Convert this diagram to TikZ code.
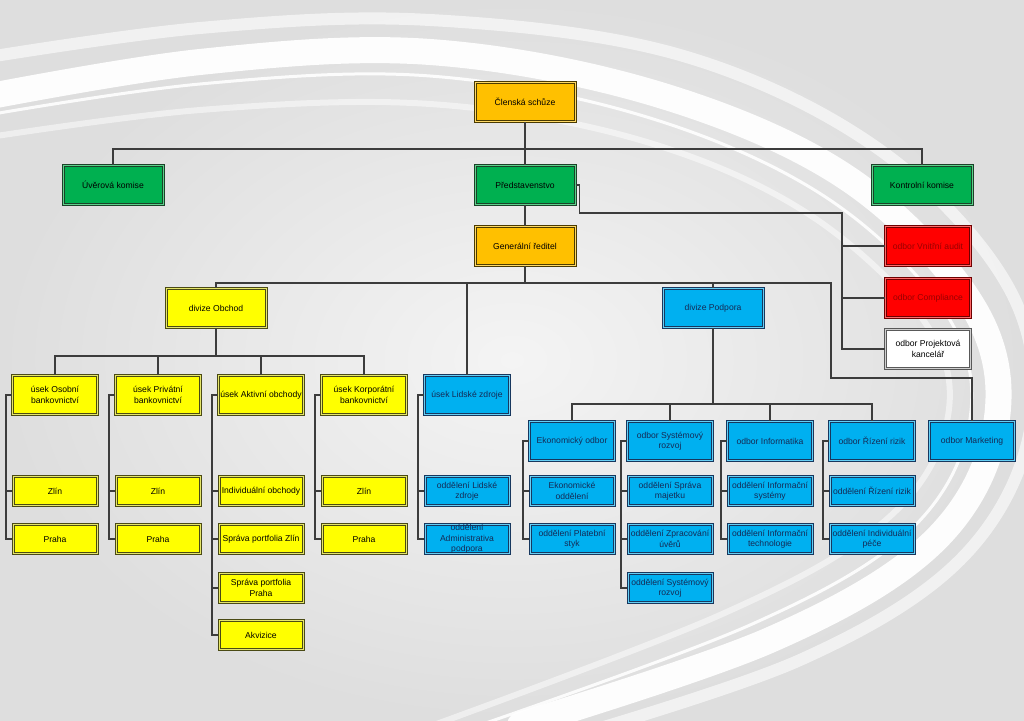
\documentclass[tikz,border=0pt]{standalone}
\usepackage{fontspec}
\setmainfont{Liberation Sans}
\hyphenpenalty=10000 \exhyphenpenalty=10000
\definecolor{linec}{HTML}{3C3C3C}
\definecolor{bgin}{HTML}{F4F4F4}\definecolor{bgout}{HTML}{DEDEDE}
\definecolor{cOr}{HTML}{FFC000}\definecolor{cOrD}{HTML}{4A3A00}\definecolor{cOrL}{HTML}{FFD966}
\definecolor{cGr}{HTML}{00B050}\definecolor{cGrD}{HTML}{1A4228}\definecolor{cGrL}{HTML}{5FD08C}
\definecolor{cRd}{HTML}{FF0000}\definecolor{cRdD}{HTML}{6E0000}\definecolor{cRdL}{HTML}{FF6A6A}
\definecolor{cYe}{HTML}{FFFF00}\definecolor{cYeD}{HTML}{4A4A14}\definecolor{cYeL}{HTML}{E6E66A}
\definecolor{cBl}{HTML}{00B0F0}\definecolor{cBlD}{HTML}{17375E}\definecolor{cBlL}{HTML}{66CFF5}
\definecolor{cWhD}{HTML}{595959}\definecolor{cWhL}{HTML}{D0D0D0}
\definecolor{tBl}{HTML}{152A55}\definecolor{tRd}{HTML}{990000}
\begin{document}
\begin{tikzpicture}[x=1pt,y=-1pt,
  conn/.style={draw=linec, line width=1.1pt},
  base/.style={rectangle, double distance=0.8pt, line width=1.1pt, inner sep=0pt, align=center,
               font=\fontsize{8.6}{10.5}\selectfont},
  bigbox/.style={base, minimum width=100pt, minimum height=39pt},
  midbox/.style={base, minimum width=85pt, minimum height=39pt},
  smallbox/.style={base, minimum width=84pt, minimum height=29pt},
  orb/.style={fill=cOr, draw=cOrD, double=cOrL, text=black},
  grb/.style={fill=cGr, draw=cGrD, double=cGrL, text=black},
  rdb/.style={fill=cRd, draw=cRdD, double=cRdL, text=tRd},
  yeb/.style={fill=cYe, draw=cYeD, double=cYeL, text=black},
  blb/.style={fill=cBl, draw=cBlD, double=cBlL, text=tBl},
  whb/.style={fill=white, draw=cWhD, double=cWhL, text=black},
  swoosh/.style={draw=white, line cap=round}
]
\useasboundingbox (0,0) rectangle (1024,720);
% background
\shade[inner color=bgin, outer color=bgout] (0,0) rectangle (1024,720);
\begin{scope}
\clip (0,0) rectangle (1024,720);
\draw[swoosh, line width=26pt, opacity=0.95] plot[smooth, tension=0.6] coordinates
  {(-30,100) (200,62) (430,52) (660,95) (850,180) (975,310) (995,430) (930,545) (770,640) (520,725)};
\draw[swoosh, line width=12pt, opacity=0.6] plot[smooth, tension=0.6] coordinates
  {(-30,60) (200,28) (430,20) (680,55) (880,150) (1010,290) (1030,430) (960,560) (800,660) (560,740)};
\draw[swoosh, line width=3pt, opacity=0.9] plot[smooth, tension=0.6] coordinates
  {(-30,118) (200,84) (430,76) (650,118) (830,200) (950,320) (968,430) (905,535) (750,625) (480,725)};
\draw[swoosh, line width=6pt, opacity=0.5] plot[smooth, tension=0.6] coordinates
  {(-30,140) (200,110) (430,104) (640,140) (810,215) (930,330) (945,430) (880,525) (720,615) (420,730)};
\end{scope}

% top level
\node[bigbox,orb] (cs) at (525,102) {Členská schůze};
\node[bigbox,grb] (uk) at (113,185) {Úvěrová komise};
\node[bigbox,grb] (ps) at (525,185) {Představenstvo};
\node[bigbox,grb] (kk) at (922,185) {Kontrolní komise};
\node[bigbox,orb] (gr) at (525,246) {Generální ředitel};
\node[midbox,rdb] (va) at (928,246) {odbor Vnitřní audit};
\node[midbox,rdb] (cp) at (928,298) {odbor Compliance};
\node[midbox,whb] (pk) at (928,349) {odbor Projektová\\kancelář};
\node[bigbox,yeb] (dob) at (216,308) {divize Obchod};
\node[bigbox,blb] (dpo) at (713,308) {divize Podpora};

% level 3
\node[midbox,yeb] (u1) at (55,395) {úsek Osobní\\bankovnictví};
\node[midbox,yeb] (u2) at (158,395) {úsek Privátní\\bankovnictví};
\node[midbox,yeb] (u3) at (261,395) {úsek Aktivní obchody};
\node[midbox,yeb] (u4) at (364,395) {úsek Korporátní\\bankovnictví};
\node[midbox,blb] (lz) at (467,395) {úsek Lidské zdroje};

% level 4
\node[midbox,blb] (o1) at (572,441) {Ekonomický odbor};
\node[midbox,blb] (o2) at (670,441) {odbor Systémový\\rozvoj};
\node[midbox,blb] (o3) at (770,441) {odbor Informatika};
\node[midbox,blb] (o4) at (872,441) {odbor Řízení rizik};
\node[midbox,blb] (mk) at (972,441) {odbor Marketing};

% children yellow
\node[smallbox,yeb] (u1a) at (55,491) {Zlín};
\node[smallbox,yeb] (u1b) at (55,539) {Praha};
\node[smallbox,yeb] (u2a) at (158,491) {Zlín};
\node[smallbox,yeb] (u2b) at (158,539) {Praha};
\node[smallbox,yeb] (u3a) at (261,491) {Individuální obchody};
\node[smallbox,yeb] (u3b) at (261,539) {Správa portfolia Zlín};
\node[smallbox,yeb] (u3c) at (261,588) {Správa portfolia\\Praha};
\node[smallbox,yeb] (u3d) at (261,635) {Akvizice};
\node[smallbox,yeb] (u4a) at (364,491) {Zlín};
\node[smallbox,yeb] (u4b) at (364,539) {Praha};
% children blue
\node[smallbox,blb] (lza) at (467,491) {oddělení Lidské\\zdroje};
\node[smallbox,blb] (lzb) at (467,539) {oddělení\\Administrativa\\podpora};
\node[smallbox,blb] (o1a) at (572,491) {Ekonomické\\oddělení};
\node[smallbox,blb] (o1b) at (572,539) {oddělení Platební\\styk};
\node[smallbox,blb] (o2a) at (670,491) {oddělení Správa\\majetku};
\node[smallbox,blb] (o2b) at (670,539) {oddělení Zpracování\\úvěrů};
\node[smallbox,blb] (o2c) at (670,588) {oddělení Systémový\\rozvoj};
\node[smallbox,blb] (o3a) at (770,491) {oddělení Informační\\systémy};
\node[smallbox,blb] (o3b) at (770,539) {oddělení Informační\\technologie};
\node[smallbox,blb] (o4a) at (872,491) {oddělení Řízení rizik};
\node[smallbox,blb] (o4b) at (872,539) {oddělení Individuální\\péče};

% bus coordinates
\coordinate (b1) at (525,149);
\coordinate (b2) at (525,283);
\coordinate (b3) at (216,356);
\coordinate (b4) at (713,404);
\coordinate (j1) at (842,213);
\coordinate (j2) at (831,378);

% connectors
\draw[conn] (cs.south) -- (b1);
\draw[conn] (uk.north) |- (b1) -| (kk.north);
\draw[conn] (b1) -- (ps.north);
\draw[conn] (ps.south) -- (gr.north);
\draw[conn] (ps.east) -- ++(4,0) |- (j1) |- (pk.west);
\draw[conn] (j1) |- (va.west);
\draw[conn] (j1) |- (cp.west);
\draw[conn] (gr.south) -- (b2);
\draw[conn] (dob.north) |- (b2) -| (j2) -| (mk.north);
\draw[conn] (lz.north) -- (lz.north |- b2);
\draw[conn] (dpo.north) -- (dpo.north |- b2);
\draw[conn] (dob.south) -- (b3);
\draw[conn] (u1.north) |- (b3) -| (u4.north);
\draw[conn] (u2.north) -- (u2.north |- b3);
\draw[conn] (u3.north) -- (u3.north |- b3);
\draw[conn] (dpo.south) -- (b4);
\draw[conn] (o1.north) |- (b4) -| (o4.north);
\draw[conn] (o2.north) -- (o2.north |- b4);
\draw[conn] (o3.north) -- (o3.north |- b4);
\foreach \p/\c in {u1/u1a,u1/u1b,u2/u2a,u2/u2b,u3/u3a,u3/u3b,u3/u3c,u3/u3d,u4/u4a,u4/u4b,
                   lz/lza,lz/lzb,o1/o1a,o1/o1b,o2/o2a,o2/o2b,o2/o2c,o3/o3a,o3/o3b,o4/o4a,o4/o4b}
  \draw[conn] (\p.west) -- ++(-6,0) |- (\c.west);
\end{tikzpicture}
\end{document}
